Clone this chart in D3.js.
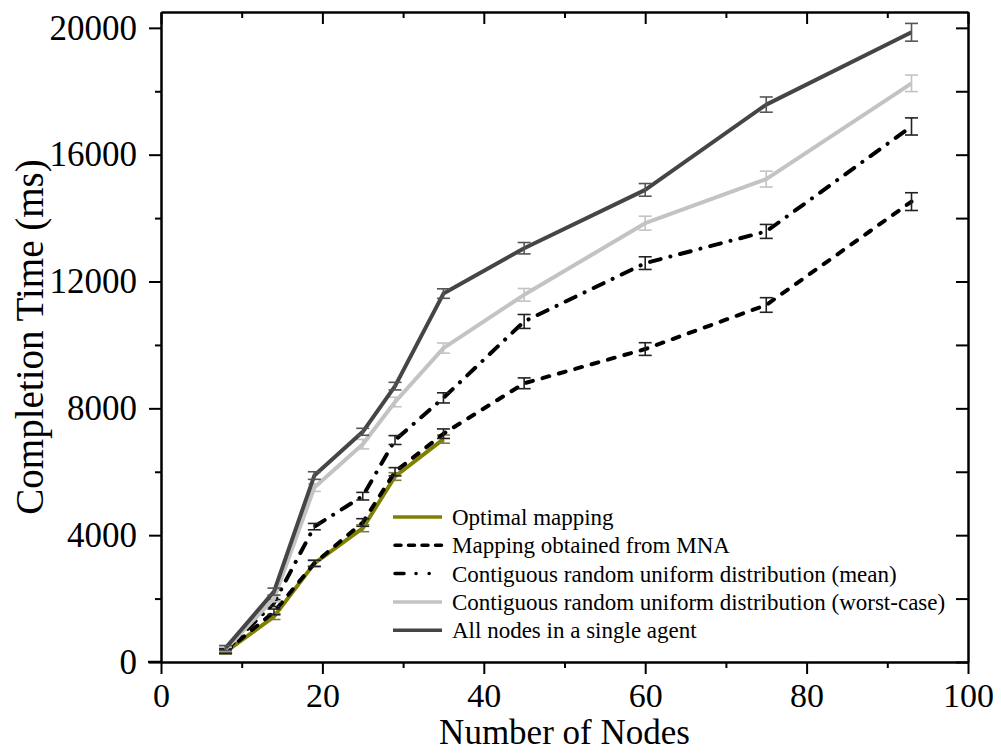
<!DOCTYPE html>
<html><head><meta charset="utf-8">
<script src="https://cdn.jsdelivr.net/npm/d3@7"></script>
<style>body{margin:0;background:#fff}svg{display:block}</style>
</head><body>
<svg id="c" width="1001" height="754"></svg>
<script>
const nodes = [8, 14, 19, 25, 29, 35, 45, 60, 75, 93];
const optimal = [320, 1430, 3110, 4220, 5850, 7030];
const optimalErr = [70, 90, 90, 110, 120, 130];
const mna = [330, 1580, 3110, 4400, 6000, 7200, 8790, 9870, 11260, 14520];
const mnaErr = [60, 90, 100, 120, 130, 150, 170, 200, 230, 280];
const mean = [360, 1860, 4270, 5230, 7000, 8330, 10740, 12580, 13580, 16890];
const meanErr = [70, 110, 100, 120, 140, 160, 220, 200, 220, 270];
const worst = [400, 2000, 5500, 6870, 8200, 9900, 11580, 13840, 15230, 18250];
const worstErr = [70, 100, 120, 150, 150, 160, 200, 220, 250, 260];
const single = [440, 2220, 5880, 7260, 8700, 11620, 13050, 14890, 17580, 19860];
const singleErr = [80, 110, 120, 110, 120, 150, 180, 200, 240, 280];
const seriesNames = ["Optimal mapping", "Mapping obtained from MNA",
  "Contiguous random uniform distribution (mean)",
  "Contiguous random uniform distribution (worst-case)",
  "All nodes in a single agent"];
const xTicks = [0, 20, 40, 60, 80, 100];
const xMinor = [10, 30, 50, 70, 90];
const yTicks = [0, 4000, 8000, 12000, 16000, 20000];
const yMinor = [2000, 6000, 10000, 14000, 18000];

const series = [
  {name: seriesNames[0], vals: optimal, err: optimalErr, color: "#808000", err_c: "#7f7f3a", dash: null, legDash: null},
  {name: seriesNames[1], vals: mna, err: mnaErr, color: "#000000", err_c: "#222", dash: "7,10", legDash: "6,7.5"},
  {name: seriesNames[2], vals: mean, err: meanErr, color: "#000000", err_c: "#222", dash: "11,10,0.1,10", legDash: "9,12,0.1,13,0.1,30"},
  {name: seriesNames[3], vals: worst, err: worstErr, color: "#c3c3c3", err_c: "#c3c3c3", dash: null, legDash: null},
  {name: seriesNames[4], vals: single, err: singleErr, color: "#454545", err_c: "#555", dash: null, legDash: null}
];

const svg = d3.select("#c");
const font = "'Liberation Serif','Times New Roman',serif";
const x = d3.scaleLinear().domain([0, 100]).range([161, 968]);
const y = d3.scaleLinear().domain([0, 20500]).range([662, 12]);

// series lines
const line = d3.line().x(d => x(d[0])).y(d => y(d[1]));
series.forEach(s => {
  const pts = s.vals.map((v, i) => [nodes[i], v]);
  svg.append("path").attr("d", line(pts)).attr("fill", "none")
    .attr("stroke", s.color).attr("stroke-width", 4)
    .attr("stroke-linecap", s.dash ? "round" : "butt")
    .attr("stroke-linejoin", "round")
    .attr("stroke-dasharray", s.dash);
  const g = svg.append("g").attr("stroke", s.err_c).attr("stroke-width", 1.6);
  s.vals.forEach((v, i) => {
    const cx = x(nodes[i]), y1 = y(v - s.err[i]), y2 = y(v + s.err[i]);
    g.append("line").attr("x1", cx).attr("x2", cx).attr("y1", y1).attr("y2", y2);
    g.append("line").attr("x1", cx - 6.5).attr("x2", cx + 6.5).attr("y1", y1).attr("y2", y1);
    g.append("line").attr("x1", cx - 6.5).attr("x2", cx + 6.5).attr("y1", y2).attr("y2", y2);
  });
});

// axes
function style(g, labels) {
  g.select(".domain").attr("stroke", "#000").attr("stroke-width", 2.5);
  g.selectAll(".tick line").attr("stroke", "#000").attr("stroke-width", 2);
  g.selectAll(".tick text").attr("font-family", font).attr("font-size", 35).attr("fill", "#000");
  if (!labels) g.selectAll(".tick text").remove();
}
const gb = svg.append("g").attr("transform", "translate(0,662)")
  .call(d3.axisBottom(x).tickValues(xTicks).tickSize(12).tickSizeOuter(0).tickPadding(9).tickFormat(d3.format("d")));
style(gb, true);
gb.selectAll(".tick text").attr("dy", "0.71em").attr("font-size", 34);
svg.append("g").attr("transform", "translate(0,662)")
  .call(d3.axisBottom(x).tickValues(xMinor).tickSize(6).tickSizeOuter(0)).call(g => { style(g, false); g.select(".domain").remove(); });
svg.append("line").attr("x1", x(0) - 13).attr("x2", x(0)).attr("y1", 662).attr("y2", 662)
  .attr("stroke", "#000").attr("stroke-width", 2.5);

const gt = svg.append("g").attr("transform", "translate(0,12)")
  .call(d3.axisTop(x).tickValues(xTicks).tickSize(-12).tickSizeOuter(0));
style(gt, false);
svg.append("g").attr("transform", "translate(0,12)")
  .call(d3.axisTop(x).tickValues(xMinor).tickSize(-6).tickSizeOuter(0)).call(g => { style(g, false); g.select(".domain").remove(); });

const gl = svg.append("g").attr("transform", "translate(161,0)")
  .call(d3.axisLeft(y).tickValues(yTicks).tickSize(12).tickSizeOuter(0).tickPadding(12).tickFormat(d3.format("d")));
style(gl, true);
svg.append("g").attr("transform", "translate(161,0)")
  .call(d3.axisLeft(y).tickValues(yMinor).tickSize(6).tickSizeOuter(0)).call(g => { style(g, false); g.select(".domain").remove(); });

const gr = svg.append("g").attr("transform", "translate(968,0)")
  .call(d3.axisRight(y).tickValues(yTicks.concat(yMinor)).tickSize(-12).tickSizeOuter(0));
style(gr, false);

// axis titles
svg.append("text").attr("x", (x(0) + x(100)) / 2).attr("y", 744)
  .attr("text-anchor", "middle").attr("font-family", font).attr("font-size", 35)
  .text("Number of Nodes");
svg.append("text").attr("transform", `translate(43,${(y(0) + y(20500)) / 2}) rotate(-90)`)
  .attr("text-anchor", "middle").attr("font-family", font).attr("font-size", 39)
  .text("Completion Time (ms)");

// legend
const lg = svg.append("g");
series.forEach((s, i) => {
  const ly = 517 + i * 28.3;
  const dashed = !!s.legDash;
  lg.append("line").attr("x1", dashed ? 395 : 393).attr("x2", 442).attr("y1", ly).attr("y2", ly)
    .attr("stroke", s.color).attr("stroke-width", 3.5)
    .attr("stroke-linecap", dashed ? "round" : "butt")
    .attr("stroke-dasharray", s.legDash);
  lg.append("text").attr("x", 452).attr("y", ly + 8).attr("font-family", font)
    .attr("font-size", 23).text(s.name);
});
</script>
</body></html>
